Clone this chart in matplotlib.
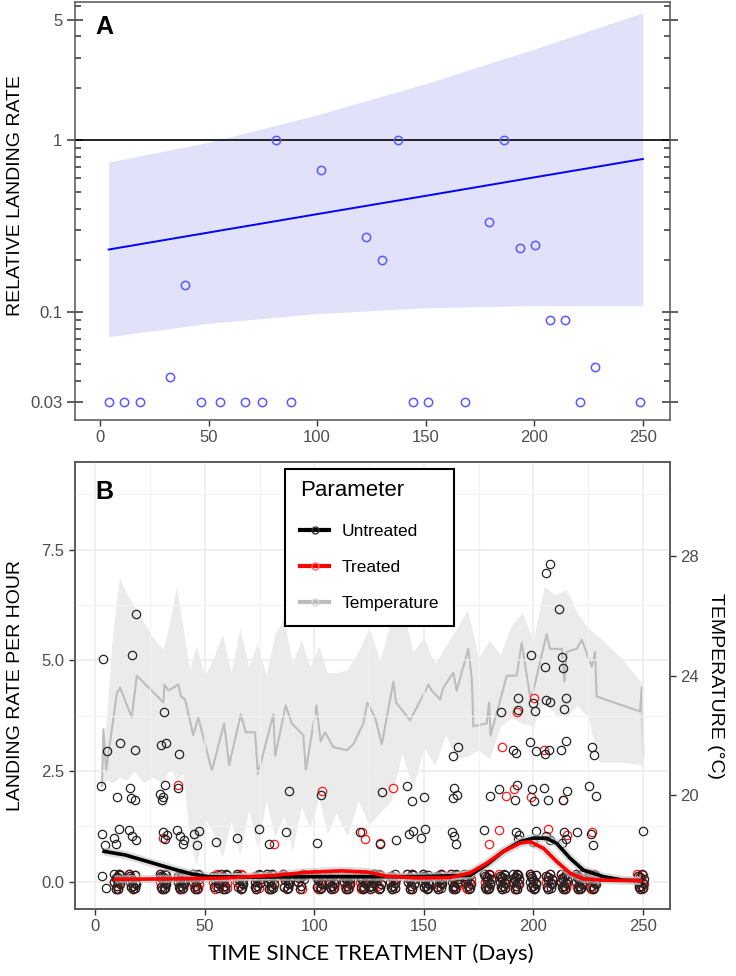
import numpy as np
import matplotlib.pyplot as plt
from matplotlib.lines import Line2D
from matplotlib.ticker import LogLocator, NullFormatter, FixedLocator

plt.rcParams['font.family'] = ['Liberation Sans', 'DejaVu Sans']

# ---- panel A: relative landing rate (log scale) ----
rel_days = [4.3, 11.2, 18.5, 32.3, 39.2, 46.3, 55.2, 67, 74.4, 81.2, 88.1, 101.9, 122.7,
            130.1, 137.1, 144.2, 151.1, 167.9, 179.1, 185.9, 193.4, 200.3, 207.2, 214.1,
            221.1, 228, 248.8]
rel_rate = [0.03, 0.03, 0.03, 0.042, 0.143, 0.03, 0.03, 0.03, 0.03, 1, 0.03, 0.67, 0.274,
            0.20, 1, 0.03, 0.03, 0.03, 0.335, 1, 0.236, 0.244, 0.09, 0.09, 0.03, 0.048, 0.03]
fit_days = [4, 50, 100, 150, 200, 250]
fit_rate = [0.231, 0.290, 0.371, 0.474, 0.607, 0.776]
fit_low = [0.072, 0.086, 0.098, 0.106, 0.109, 0.109]
fit_high = [0.745, 0.97, 1.40, 2.13, 3.38, 5.5]

# ---- panel B: landings per hour (jittered counts) ----
zero_days = [4, 10, 17, 31, 39, 46, 55, 59, 66, 74, 80, 87, 94, 102, 108, 115, 122, 126,
             129, 136, 144, 151, 157, 164, 170, 179, 186, 192, 200, 207, 214, 221, 227, 249]
zero_untreated = [2, 12, 12, 14, 12, 10, 6, 8, 10, 10, 12, 10, 8, 10, 10, 12, 10, 8,
                  8, 10, 12, 12, 10, 12, 10, 12, 12, 12, 12, 10, 12, 12, 12, 10]
zero_treated = [0, 10, 10, 12, 10, 8, 6, 6, 8, 8, 10, 8, 6, 8, 8, 10, 8, 6,
                8, 8, 10, 10, 8, 10, 8, 10, 10, 10, 10, 8, 10, 10, 10, 10]

untreated_day = [4, 4, 4, 4, 4,
                 10, 10, 10, 10, 10,
                 17, 17, 17, 17, 17, 17, 17, 17, 17,
                 31, 31, 31, 31, 31, 31, 31, 31, 31, 31,
                 39, 39, 39, 39, 39, 39,
                 46, 46, 46, 55, 66, 74, 80, 87, 87, 102, 102, 122,
                 129, 131, 136, 144, 144, 144, 144, 150, 150, 150,
                 164, 164, 164, 164, 164, 164, 164, 164,
                 179, 179, 185, 185,
                 192, 192, 192, 192, 192, 192, 192, 192, 194,
                 200, 200, 200, 200, 200, 200, 200, 200, 200,
                 207, 207, 206, 206, 206, 206, 206, 206, 206, 206, 206,
                 213, 213, 214, 214, 214, 214, 214, 214, 214, 214, 214, 214,
                 221, 227, 227, 227, 227, 227, 227, 249]
untreated_count = [5, 3, 2, 1, 1,
                   3, 2, 1, 1, 1,
                   6, 5, 3, 2, 2, 2, 1, 1, 1,
                   4, 3, 3, 2, 2, 2, 2, 1, 1, 1,
                   3, 2, 1, 1, 1, 1,
                   1, 1, 1, 1, 1, 1, 1, 2, 1, 2, 1, 1,
                   1, 2, 1, 2, 2, 1, 1, 2, 1, 1,
                   3, 3, 2, 2, 2, 1, 1, 1,
                   2, 1, 4, 2,
                   4, 3, 3, 2, 2, 1, 1, 1, 4,
                   5, 4, 4, 3, 3, 2, 2, 1, 1,
                   7, 7, 5, 4, 4, 3, 3, 2, 2, 1, 1,
                   6, 5, 5, 4, 4, 3, 3, 2, 2, 1, 1, 1,
                   1, 3, 3, 2, 2, 1, 1, 1]
treated_day = [32, 37, 82, 102, 122, 122, 131, 137, 179, 186, 186, 186, 192, 192,
               199, 199, 206, 206, 214, 214, 227]
treated_count = [1, 2, 1, 2, 1, 1, 1, 2, 1, 3, 2, 1, 4, 2, 4, 2, 3, 1, 2, 1, 1]

# loess fits
smooth_days = [4, 13.6, 21.2, 28.8, 36.4, 44, 51.6, 70, 100, 125, 147, 171, 178.7, 186.3,
               193.9, 200, 206, 210.7, 216.7, 222.8, 232, 241, 249]
smooth_untreated = [0.68, 0.60, 0.49, 0.38, 0.27, 0.17, 0.11, 0.10, 0.11, 0.11, 0.11, 0.14,
                    0.38, 0.68, 0.90, 0.98, 0.98, 0.86, 0.53, 0.26, 0.11, 0.03, 0.02]
smooth_days_t = [9, 36.4, 59.2, 82, 97.3, 112.5, 124.7, 133, 147, 162, 171, 178.7, 186.3,
                 194, 198.5, 204.6, 210.7, 216.7, 222.8, 232, 249]
smooth_treated = [0.05, 0.06, 0.08, 0.14, 0.21, 0.24, 0.21, 0.12, 0.08, 0.09, 0.19, 0.41,
                  0.68, 0.87, 0.90, 0.75, 0.45, 0.19, 0.06, 0.03, 0.02]

# temperature (right axis)
temp_days = [3, 3.7, 4.9, 9.8, 11.3, 16.6, 18.9, 31.1, 31.5, 33.3, 37.9, 39.1, 41, 44.7, 47,
             53.2, 58.8, 61.1, 66.4, 68.7, 72.9, 74.2, 81.3, 82.1, 86.9, 89.7, 95, 96.1,
             100.9, 102.9, 104.9, 108.7, 114.8, 117.8, 122.4, 124.2, 127.7, 130.8, 136.1,
             137.3, 143.7, 152.1, 153.6, 157.4, 158.9, 163.5, 165, 170.3, 171.9, 172.6,
             178.7, 179.8, 180.5, 187.9, 192.4, 194.7, 198.5, 200, 206.1, 207.6, 213,
             214.2, 215.2, 219.8, 222.1, 226.7, 228.2, 228.9, 248.7, 249.5, 250.2]
temp_mean = [20.3, 22.2, 20.8, 23.4, 23.6, 22.6, 24.0, 23.1, 23.7, 23.5, 23.7, 23.3, 23.2,
             22.0, 22.6, 20.8, 22.4, 21.0, 22.7, 22.1, 22.1, 20.7, 22.7, 21.3, 23.0, 22.4,
             22.0, 20.8, 23.0, 21.8, 22.1, 21.6, 21.5, 21.7, 22.4, 23.1, 22.6, 21.7, 23.8,
             23.1, 22.5, 23.7, 23.5, 23.2, 23.6, 24.1, 23.5, 24.9, 23.9, 22.3, 22.4, 23.1,
             22.0, 24.0, 24.0, 25.1, 23.3, 23.5, 25.4, 24.9, 24.9, 23.8, 24.8, 24.9, 25.2,
             24.3, 24.8, 23.3, 22.8, 23.6, 21.3]
band_days = [3, 5, 8, 11, 14, 18, 22, 26, 31, 34, 37, 40, 43, 46, 50, 54, 58, 62, 66, 70,
             74, 78, 82, 86, 90, 94, 98, 102, 106, 110, 115, 120, 125, 130, 135, 140, 145,
             150, 155, 160, 165, 170, 175, 180, 185, 190, 195, 200, 205, 210, 215, 220, 225,
             230, 240, 250]
band_high = [21.0, 22.5, 25.5, 27.3, 26.8, 26.3, 25.8, 25.3, 24.9, 25.8, 27.0, 25.6, 24.2,
             25.0, 24.0, 24.6, 25.4, 24.1, 25.6, 24.3, 25.1, 24.0, 25.4, 25.9, 24.4, 25.2,
             24.3, 25.0, 24.1, 24.1, 24.2, 24.8, 25.6, 24.5, 25.9, 26.4, 24.8, 25.3, 24.4,
             25.0, 25.6, 26.2, 24.6, 25.2, 24.7, 25.7, 26.1, 25.2, 27.0, 26.7, 26.9, 26.1,
             25.6, 25.3, 24.6, 23.7]
band_low = [20.2, 20.5, 20.4, 20.6, 20.5, 20.8, 20.4, 20.6, 20.4, 20.9, 20.5, 20.7, 18.6,
            17.6, 19.2, 18.7, 17.9, 19.1, 18.0, 19.5, 18.2, 19.8, 18.6, 19.3, 18.1, 19.6,
            18.9, 19.9, 18.7, 19.4, 18.6, 19.8, 19.0, 19.4, 19.8, 21.4, 20.2, 21.6, 21.0,
            22.0, 21.2, 21.3, 21.5, 21.2, 22.3, 22.6, 22.4, 22.3, 23.2, 22.7, 22.6, 23.0,
            22.6, 21.1, 21.1, 21.0]

# fixed jitter pattern (like geom_jitter), in days / counts
JX = [-1.1, 0.9, -0.3, 1.4, -1.5, 0.4, -0.8, 1.1, 0.0, -1.3, 0.7, -0.5, 1.5, -0.1, 1.0, -0.9]
JY = [0.12, -0.15, 0.03, -0.06, 0.16, -0.18, 0.08, 0.14, -0.1, -0.02, 0.18, -0.16, 0.05,
      0.11, -0.04, -0.12]

grey_txt = '#4d4d4d'
tick_c = '#333333'


def jittered(days, counts, start=0):
    xs, ys = [], []
    for i, (d, c) in enumerate(zip(days, counts)):
        k = (i + start) % len(JX)
        xs.append(d + JX[k])
        ys.append(c + JY[k])
    return xs, ys


def expand_zeros(days, ns):
    out = []
    for d, n in zip(days, ns):
        out += [d] * n
    return out


fig = plt.figure(figsize=(7.36, 9.76), dpi=100)

# ================= panel A =================
axA = fig.add_axes([0.1019, 0.5697, 0.8084, 0.4283])
axA.set_yscale('log')
axA.fill_between(fit_days, fit_low, fit_high, color='#e1e1fa', lw=0)
axA.axhline(1, color='black', lw=1.2)
axA.plot(fit_days, fit_rate, color='#0000ff', lw=1.4)
axA.plot(rel_days, rel_rate, 'o', mfc='none', mec='#5a5aff', ms=6, mew=1.1)
axA.set_xlim(-11.5, 262.5)
axA.set_ylim(0.0236, 6.35)
axA.yaxis.set_major_locator(FixedLocator([0.03, 0.1, 1, 5]))
axA.set_yticklabels(['0.03', '0.1', '1', '5'])
axA.yaxis.set_minor_locator(LogLocator(base=10, subs=[2, 3, 4, 5, 6, 7, 8, 9], numticks=20))
axA.yaxis.set_minor_formatter(NullFormatter())
axA.set_xticks([0, 50, 100, 150, 200, 250])
axA.tick_params(axis='y', which='major', direction='inout', length=11, width=1.1,
                left=True, right=True, color=tick_c, labelsize=12, labelcolor=grey_txt)
axA.tick_params(axis='y', which='minor', direction='in', length=4.5, width=1.1,
                left=True, right=True, color=tick_c)
axA.tick_params(axis='x', direction='out', length=4, width=1, color=tick_c,
                labelsize=12, labelcolor=grey_txt)
for s in axA.spines.values():
    s.set_color('#555555')
    s.set_linewidth(1.1)
axA.set_ylabel('RELATIVE LANDING RATE', fontsize=14)
axA.yaxis.set_label_coords(-0.086, 0.538)
axA.text(0.035, 0.94, 'A', transform=axA.transAxes, fontsize=18, fontweight='bold',
         va='center', ha='left')

# ================= panel B =================
axB = fig.add_axes([0.1019, 0.0687, 0.8084, 0.4576])
axT = axB.twinx()
axB.set_zorder(axT.get_zorder() + 1)
axB.patch.set_visible(False)
axT.patch.set_visible(True)
axT.patch.set_facecolor('white')

axT.fill_between(band_days, band_low, band_high, color='#ebebeb', lw=0)
axT.plot(temp_days, temp_mean, color='#bdbdbd', lw=1.5)
axT.set_ylim(16.17, 31.16)
axT.set_yticks([20, 24, 28])
axT.tick_params(axis='y', direction='out', length=4, width=1, color=tick_c,
                labelsize=12, labelcolor=grey_txt)
axT.set_ylabel('TEMPERATURE (°C)', fontsize=14, rotation=270)
axT.yaxis.set_label_coords(1.09, 0.5)

# grid (theme_bw style)
axB.set_axisbelow(True)
axB.set_xticks([0, 50, 100, 150, 200, 250])
axB.set_xticks([25, 75, 125, 175, 225], minor=True)
axB.set_yticks([0, 2.5, 5, 7.5])
axB.set_yticks([1.25, 3.75, 6.25, 8.75], minor=True)
axB.set_yticklabels(['0.0', '2.5', '5.0', '7.5'])
axB.grid(True, which='major', color='#ebebeb', lw=1.1)
axB.grid(True, which='minor', color='#f2f2f2', lw=0.8)
axB.tick_params(which='minor', length=0)
axB.tick_params(which='major', direction='out', length=4, width=1, color=tick_c,
                labelsize=12, labelcolor=grey_txt)

zu = expand_zeros(zero_days, zero_untreated)
zt = expand_zeros(zero_days, zero_treated)
ux, uy = jittered(zu + untreated_day, [0] * len(zu) + untreated_count)
tx, ty = jittered(zt + treated_day, [0] * len(zt) + treated_count, start=5)
axB.plot(tx, ty, 'o', mfc='none', mec='#ff1a1a', ms=6, mew=0.9, zorder=3)
axB.plot(ux, uy, 'o', mfc='none', mec='#222222', ms=6, mew=0.9, zorder=3)

# smooth lines with a soft SE halo
axB.plot(smooth_days, smooth_untreated, color='#c8c8c8', lw=6, alpha=0.6,
         solid_capstyle='butt', zorder=4)
axB.plot(smooth_days_t, smooth_treated, color='#c8c8c8', lw=6, alpha=0.6,
         solid_capstyle='butt', zorder=4)
axB.plot(smooth_days, smooth_untreated, color='black', lw=2.6, zorder=5)
axB.plot(smooth_days_t, smooth_treated, color='#ff0000', lw=2.6, zorder=6)

axB.set_xlim(-9.3, 262.4)
axB.set_ylim(-0.62, 9.47)
for ax in (axB, axT):
    for s in ax.spines.values():
        s.set_color('#555555')
        s.set_linewidth(1.1)

axB.set_ylabel('LANDING RATE PER HOUR', fontsize=14)
axB.yaxis.set_label_coords(-0.086, 0.5)
axB.set_xlabel('TIME SINCE TREATMENT (Days)', fontsize=16, family=['Lato', 'DejaVu Sans'])
axB.xaxis.set_label_coords(0.497, -0.078)
axB.text(0.035, 0.933, 'B', transform=axB.transAxes, fontsize=18, fontweight='bold',
         va='center', ha='left')

handles = [
    Line2D([], [], color='black', lw=3, marker='o', mfc='none', mec='#333333', ms=5),
    Line2D([], [], color='#ff0000', lw=3, marker='o', mfc='none', mec='#ff6666', ms=5),
    Line2D([], [], color='#bdbdbd', lw=3, marker='o', mfc='none', mec='#d9d9d9', ms=5),
]
leg = axB.legend(handles, ['Untreated', 'Treated', 'Temperature'], title='Parameter',
                 loc='upper left', bbox_to_anchor=(0.353, 0.985), fontsize=12.5,
                 title_fontsize=16, frameon=True, fancybox=False, edgecolor='black',
                 framealpha=1, handlelength=1.7, labelspacing=1.2, borderpad=0.85,
                 handletextpad=0.7, borderaxespad=0)
leg.get_frame().set_linewidth(1.5)
leg._legend_box.align = 'left'
leg.get_title().set_position((0, 4))
leg.set_zorder(10)
# keep the vertical size while trimming the side padding
leg._legend_box.sep = 14

fig.savefig('out.png', dpi=100, facecolor='white')
